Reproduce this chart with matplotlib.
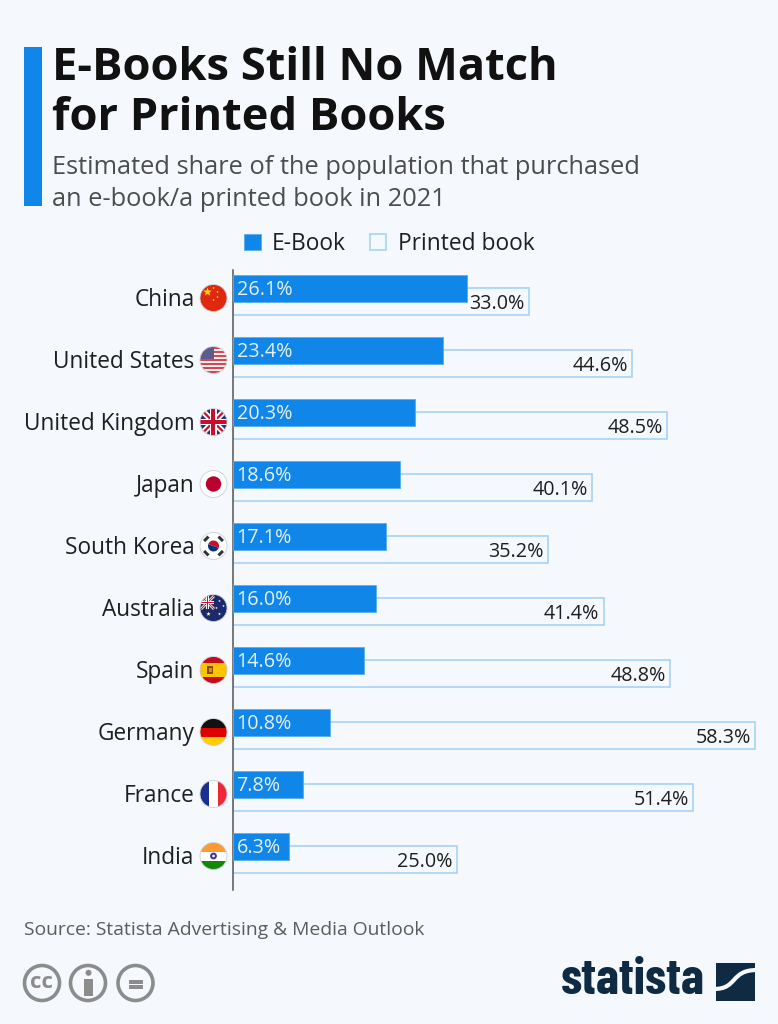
#!/usr/bin/env python3
"""plot.py - e-book vs printed book share, 2021."""
import numpy as np
import matplotlib
matplotlib.use("Agg")
import matplotlib.pyplot as plt
from matplotlib.patches import Circle, Rectangle, Polygon, Wedge, PathPatch
from matplotlib.path import Path

plt.rcParams["font.family"] = ["Open Sans", "DejaVu Sans"]

countries = ["China", "United States", "United Kingdom", "Japan", "South Korea",
             "Australia", "Spain", "Germany", "France", "India"]
ebook = [26.1, 23.4, 20.3, 18.6, 17.1, 16.0, 14.6, 10.8, 7.8, 6.3]
printed = [33.0, 44.6, 48.5, 40.1, 35.2, 41.4, 48.8, 58.3, 51.4, 25.0]

BG = "#f5f8fc"
BLUE = "#0f86e8"
LIGHT = "#a5d3f8"
DARK = "#1f1f1f"
GREY = "#8c8c8c"
NAVY = "#0f2a43"
W, H = 778, 1024

fig = plt.figure(figsize=(W / 100, H / 100), dpi=100, facecolor=BG)

# overlay in pixel coordinates for everything that is not the chart itself
bg = fig.add_axes([0, 0, 1, 1])
bg.set_xlim(0, W)
bg.set_ylim(H, 0)
bg.axis("off")

# chart axes: x=0 sits at pixel 233, about 8.955 px per percent
ax_left, ax_right, ax_top, ax_bottom = 233, 760, 270, 890
ax = fig.add_axes([ax_left / W, 1 - ax_bottom / H, (ax_right - ax_left) / W, (ax_bottom - ax_top) / H])
ax.patch.set_alpha(0)
ax.set_xlim(0, (ax_right - ax_left) / 8.955)
ax.set_ylim((ax_bottom - 295) / 62, (ax_top - 295) / 62)
for s in ["top", "right", "bottom"]:
    ax.spines[s].set_visible(False)
ax.spines["left"].set_color("#555555")
ax.spines["left"].set_linewidth(1.1)
ax.set_xticks([])
ax.set_yticks([])

y = np.arange(len(countries))
bars_p = ax.barh(y + 0.105, printed, height=0.44, facecolor=BG, edgecolor=LIGHT,
                 linewidth=1.2, label="Printed book", zorder=2)
bars_e = ax.barh(y - 0.10, ebook, height=0.44, facecolor=BLUE, edgecolor="#5aaef0",
                 linewidth=0.6, label="E-Book", zorder=3)

for i in range(len(countries)):
    ax.annotate(f"{ebook[i]:.1f}%", (0, y[i] - 0.08), xytext=(2.6, 0), textcoords="offset points",
                color="#e3f0fb", fontsize=14.2, va="center", ha="left", zorder=4)
    ax.annotate(f"{printed[i]:.1f}%", (printed[i], y[i] + 0.15), xytext=(-3.2, 0), textcoords="offset points",
                color=DARK, fontsize=14.2, va="center", ha="right", zorder=4)
    bg.text(194.5, 300 + 62 * i, countries[i], color=DARK, fontsize=16.3, ha="right", va="center")

fig.legend(handles=[bars_e, bars_p], labels=["E-Book", "Printed book"], loc="center",
           bbox_to_anchor=(389.5 / W, 1 - 244 / H), ncol=2, frameon=False, fontsize=16.4,
           labelcolor=DARK, handlelength=0.72, handleheight=0.72, handletextpad=0.5,
           columnspacing=1.05, borderpad=0, borderaxespad=0)

# header
bg.add_patch(Rectangle((24, 47), 18, 159, facecolor=BLUE, edgecolor="none"))
bg.text(52, 68, "E-Books Still No Match", fontsize=32.6, fontweight="bold", color="#111111", va="center")
bg.text(52, 119, "for Printed Books", fontsize=32.6, fontweight="bold", color="#111111", va="center")
bg.text(52, 167, "Estimated share of the population that purchased", fontsize=18.25, color="#4d4d4d", va="center")
bg.text(52, 200, "an e-book/a printed book in 2021", fontsize=18.25, color="#4d4d4d", va="center")
bg.text(24, 930, "Source: Statista Advertising & Media Outlook", fontsize=13.9, color="#5c5c5c", va="center")


# flags
def flag(i, parts, edge="#cfcfcf"):
    cx, cy, r = 213.5, 298 + 62 * i, 13.5
    clip = Circle((cx, cy), r, transform=bg.transData)
    for p in parts(cx, cy, r):
        bg.add_patch(p)
        p.set_clip_path(clip)
    bg.add_patch(Circle((cx, cy), r, facecolor="none", edgecolor=edge, linewidth=0.6))


def rect(x, y_, w, h, c):
    return Rectangle((x, y_), w, h, facecolor=c, edgecolor="none")


def dot(x, y_, r, c):
    return Circle((x, y_), r, facecolor=c, edgecolor="none")


def line(x0, y0, x1, y1, c, t):
    d = np.array([y1 - y0, x0 - x1], float)
    d = d / np.hypot(*d) * t / 2
    return Polygon([(x0 + d[0], y0 + d[1]), (x1 + d[0], y1 + d[1]),
                    (x1 - d[0], y1 - d[1]), (x0 - d[0], y0 - d[1])], facecolor=c, edgecolor="none")


def star(x, y_, r):
    a = np.arange(10) * np.pi / 5 - np.pi / 2
    rr = np.where(np.arange(10) % 2 == 0, r, r * 0.42)
    return np.c_[x + rr * np.cos(a), y_ + rr * np.sin(a)]


def china(cx, cy, r):
    out = [rect(cx - r, cy - r, 2 * r, 2 * r, "#de2910"),
           Polygon(star(cx - 6, cy - 6, 4.4), facecolor="#ffde00", edgecolor="none")]
    for dx, dy in [(0, -10), (4, -6), (4, -1), (0, 2)]:
        out.append(dot(cx + dx, cy + dy, 0.9, "#ffc800"))
    return out


def usa(cx, cy, r):
    out = [rect(cx - r, cy - r, 2 * r, 2 * r, "#f6eeee")]
    for k in range(7):
        out.append(rect(cx - r, cy - r + k * 2 * r / 6.5, 2 * r, r / 6.5, "#cf4a55"))
    out.append(rect(cx - r, cy - r, r * 1.05, r * 0.95, "#5c5c90"))
    return out


def union(cx, cy, r, scale=1.0):
    return [line(cx - r, cy - r, cx + r, cy + r, "#ffffff", 6 * scale),
            line(cx - r, cy + r, cx + r, cy - r, "#ffffff", 6 * scale),
            line(cx - r, cy - r, cx + r, cy + r, "#c8102e", 2.2 * scale),
            line(cx - r, cy + r, cx + r, cy - r, "#c8102e", 2.2 * scale),
            rect(cx - r, cy - 3.4 * scale, 2 * r, 6.8 * scale, "#ffffff"),
            rect(cx - 3.4 * scale, cy - r, 6.8 * scale, 2 * r, "#ffffff"),
            rect(cx - r, cy - 2 * scale, 2 * r, 4 * scale, "#c8102e"),
            rect(cx - 2 * scale, cy - r, 4 * scale, 2 * r, "#c8102e")]


def uk(cx, cy, r):
    return [rect(cx - r, cy - r, 2 * r, 2 * r, "#28306e")] + union(cx, cy, r)


def japan(cx, cy, r):
    return [rect(cx - r, cy - r, 2 * r, 2 * r, "#ffffff"), dot(cx, cy, 7.7, "#bc002d")]


def korea(cx, cy, r):
    out = [rect(cx - r, cy - r, 2 * r, 2 * r, "#ffffff"),
           Wedge((cx, cy), 5.5, 200, 20, facecolor="#c8102e", edgecolor="none"),
           Wedge((cx, cy), 5.5, 20, 200, facecolor="#003478", edgecolor="none")]
    for sx, sy in [(-1, -1), (1, -1), (-1, 1), (1, 1)]:
        out.append(line(cx + sx * 7.2 - sy * 2.2, cy + sy * 7.2 + sx * 2.2,
                        cx + sx * 7.2 + sy * 2.2, cy + sy * 7.2 - sx * 2.2, "#333333", 3))
    return out


def australia(cx, cy, r):
    out = [rect(cx - r, cy - r, 2 * r, 2 * r, "#1b2a6b")]
    out += union(cx - 6, cy - 5.5, 6.5, 0.45)
    for sx, sy, sr in [(-5, 6, 2.2), (6, -7, 1.3), (10, -2, 1.3), (3, 0, 1.3), (6, 6, 1.5)]:
        out.append(Polygon(star(cx + sx, cy + sy, sr), facecolor="#ffffff", edgecolor="none"))
    return out


def spain(cx, cy, r):
    return [rect(cx - r, cy - r, 2 * r, 2 * r, "#c60b1e"), rect(cx - r, cy - r / 2, 2 * r, r, "#ffc400"),
            rect(cx - 6, cy - 4, 6, 8, "#8a4a1a"), rect(cx - 4.5, cy - 2, 3, 4, "#c8951f")]


def germany(cx, cy, r):
    h = 2 * r / 3
    return [rect(cx - r, cy - r, 2 * r, h, "#111111"), rect(cx - r, cy - r + h, 2 * r, h, "#dd0000"),
            rect(cx - r, cy - r + 2 * h, 2 * r, h, "#ffce00")]


def france(cx, cy, r):
    w = 2 * r / 3
    return [rect(cx - r, cy - r, w, 2 * r, "#1a2f8f"), rect(cx - r + w, cy - r, w, 2 * r, "#ffffff"),
            rect(cx - r + 2 * w, cy - r, w, 2 * r, "#ed2939")]


def india(cx, cy, r):
    h = 2 * r / 3
    return [rect(cx - r, cy - r, 2 * r, h, "#ff9933"), rect(cx - r, cy - r + h, 2 * r, h, "#ffffff"),
            rect(cx - r, cy - r + 2 * h, 2 * r, h, "#138808"), dot(cx, cy, 3.4, "#3a3a90"), dot(cx, cy, 1.3, "#ffffff")]


for i, f in enumerate([china, usa, uk, japan, korea, australia, spain, germany, france, india]):
    flag(i, f)

# licence icons
for cx in (42, 88, 135.5):
    bg.add_patch(Circle((cx, 983), 17.5, facecolor="none", edgecolor=GREY, linewidth=2.6))
bg.text(42, 983, "cc", fontsize=16, fontweight="bold", color=GREY, ha="center", va="center")
bg.add_patch(Circle((88.5, 972.8), 3, facecolor=GREY, edgecolor="none"))
bg.add_patch(Rectangle((84.4, 978.5), 8.9, 17, facecolor=GREY, edgecolor="none"))
bg.add_patch(Rectangle((129, 980), 14.5, 3.5, facecolor=GREY, edgecolor="none"))
bg.add_patch(Rectangle((129, 985.2), 14.5, 3.5, facecolor=GREY, edgecolor="none"))

# statista logo
bg.text(561, 981, "statista", fontsize=37, fontweight="bold", family=["Barlow Condensed", "Liberation Sans"],
        color=NAVY, ha="left", va="center")
bg.add_patch(Rectangle((716, 963), 39, 38, facecolor=NAVY, edgecolor="none"))
s_path = Path([(714, 989), (738, 989), (730, 970), (757, 970)],
              [Path.MOVETO, Path.CURVE4, Path.CURVE4, Path.CURVE4])
bg.add_patch(PathPatch(s_path, facecolor="none", edgecolor=BG, linewidth=3))

fig.savefig("out.png", dpi=100, facecolor=BG)
